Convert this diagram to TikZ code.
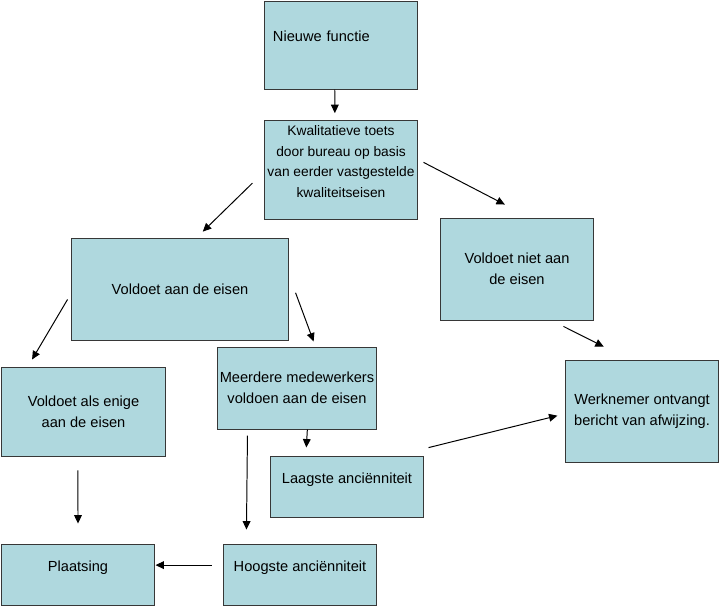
\documentclass[tikz,border=0pt]{standalone}
\usepackage{fontspec}
\setmainfont{Liberation Sans}
\usepackage{tikz}
\usetikzlibrary{arrows.meta}
\definecolor{boxfill}{RGB}{175,216,222}
\definecolor{boxline}{RGB}{55,55,55}
\tikzset{
  blok/.style={draw=boxline, fill=boxfill, line width=0.7pt, align=center, inner xsep=0pt, font=\fontsize{10.4}{14.8}\selectfont},
  hoog/.style={text depth=12pt},
  pijl/.style={draw=black, line width=0.7pt, -{Triangle[length=6pt,width=5.5pt]}}
}
\begin{document}
\begin{tikzpicture}[x=0.025cm, y=-0.025cm]
\useasboundingbox (0,0) rectangle (722,608);
\node[blok, hoog, minimum width=3.8cm, minimum height=2.2cm, text width=3.4cm, align=left, inner xsep=0.2cm] (nf) at (341,45) {Nieuwe functie};
\node[blok, hoog, minimum width=3.8cm, minimum height=2.35cm, font=\fontsize{9.8}{14.8}\selectfont] (kt) at (341,170) {Kwalitatieve toets\\door bureau op basis\\van eerder vastgestelde\\kwaliteitseisen};
\node[blok, minimum width=5.4cm, minimum height=2.55cm] (va) at (180,289) {Voldoet aan de eisen};
\node[blok, minimum width=3.8cm, minimum height=2.55cm] (vn) at (517,269) {Voldoet niet aan\\de eisen};
\node[blok, minimum width=4.075cm, minimum height=2.225cm] (ve) at (83.5,411.5) {Voldoet als enige\\aan de eisen};
\node[blok, minimum width=3.95cm, minimum height=2.05cm] (mm) at (297,388) {Meerdere medewerkers\\voldoen aan de eisen};
\node[blok, hoog, minimum width=3.8cm, minimum height=1.525cm] (la) at (347,486.5) {Laagste anciënniteit};
\node[blok, minimum width=3.8cm, minimum height=2.55cm] (wo) at (642,411) {Werknemer ontvangt\\bericht van afwijzing.};
\node[blok, hoog, minimum width=3.8cm, minimum height=1.525cm] (pl) at (78,574.5) {Plaatsing};
\node[blok, hoog, minimum width=3.8cm, minimum height=1.525cm] (ha) at (300,574.5) {Hoogste anciënniteit};
\draw[pijl, shorten >=5pt] (nf.262) -- (kt.97);
\draw[pijl, shorten <=12pt, shorten >=6pt] (kt.181) -- (va.72);
\draw[pijl, shorten <=4.8pt, shorten >=20pt] (kt.8) -- (vn.76);
\draw[pijl, shorten <=5.5pt, shorten >=5.8pt] (va.182) -- (ve.141);
\draw[pijl, shorten <=14.4pt, shorten >=3.8pt] (va.8) -- (mm.66);
\draw[pijl, shorten <=9.3pt, shorten >=20.2pt] (vn.304) -- (wo.104);
\draw[pijl, shorten <=9.9pt, shorten >=14.2pt] (ve.263) -- (pl.north);
\draw[pijl, shorten <=4.3pt, shorten >=9.9pt] (mm.220) -- (ha.150);
\draw[pijl, shorten <=8.5pt, shorten >=0.7pt] (ha.173) -- (pl.7);
\draw[pijl, shorten >=5.7pt] (mm.284) -- (la.143);
\draw[pijl, shorten <=23.4pt, shorten >=5.9pt] (la.32) -- (wo.182);
\end{tikzpicture}
\end{document}
